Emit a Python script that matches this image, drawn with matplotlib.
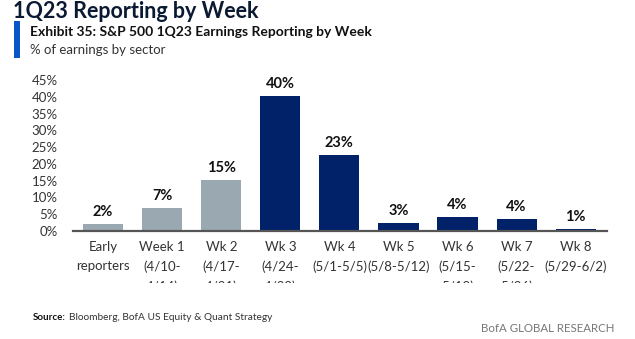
import matplotlib
matplotlib.use("Agg")
import matplotlib.pyplot as plt
from matplotlib.patches import Rectangle

categories = ["Early\nreporters", "Week 1\n(4/10-\n4/14)", "Wk 2\n(4/17-\n4/21)", "Wk 3\n(4/24-\n4/28)",
              "Wk 4\n(5/1-5/5)", "Wk 5\n(5/8-5/12)", "Wk 6\n(5/15-\n5/19)", "Wk 7\n(5/22-\n5/26)",
              "Wk 8\n(5/29-6/2)"]
values = [2.1, 6.9, 15.1, 40.2, 22.6, 2.5, 4.3, 3.5, 0.7]
value_labels = ["2%", "7%", "15%", "40%", "23%", "3%", "4%", "4%", "1%"]
is_past = [True, True, True, False, False, False, False, False, False]
yticks = [0, 5, 10, 15, 20, 25, 30, 35, 40, 45]

GREY = "#9aa9b1"
NAVY = "#012169"

W, H = 635, 339
fig = plt.figure(figsize=(W / 100, H / 100), dpi=100)

def fx(px):
    return px / W

def fy(py):
    return 1 - py / H

FONT = "Lato"
plt.rcParams["font.family"] = [FONT, "DejaVu Sans"]

ax_l, ax_r, ax_t, ax_b = 73, 607, 80, 231
ax = fig.add_axes([fx(ax_l), fy(ax_b), fx(ax_r - ax_l), (ax_b - ax_t) / H])

x = list(range(len(values)))
colors = [GREY if p else NAVY for p in is_past]
ax.bar(x, values, width=0.68, color=colors, zorder=2)
for xi, v, lab in zip(x, values, value_labels):
    ax.annotate(lab, (xi, v), xytext=(0, 3.5), textcoords="offset points",
                ha="center", va="bottom", fontsize=10.5, fontweight="bold", color="#111111")

ax.set_xlim(-0.51, 8.53)
ax.set_ylim(0, 45)
ax.set_yticks(yticks)
ax.set_yticklabels([f"{t}%" for t in yticks])
ax.set_xticks(x)
ax.set_xticklabels(categories, linespacing=1.7)
ax.tick_params(axis="y", length=0, pad=11, labelsize=9.5, labelcolor="#333333")
ax.tick_params(axis="x", length=0, pad=7, labelsize=9.5, labelcolor="#333333")
for s in ["top", "right", "left"]:
    ax.spines[s].set_visible(False)
ax.spines["bottom"].set_color("#555555")
ax.spines["bottom"].set_linewidth(1.6)

# mask the cut-off third line of the category labels
fig.add_artist(Rectangle((0, fy(302)), 1, fy(283) - fy(302), transform=fig.transFigure,
                         facecolor="white", edgecolor="none", zorder=10))

# Titles
fig.text(fx(13), fy(12), "1Q23 Reporting by Week", fontsize=15.5, fontweight="bold",
         color="#0b1a33", va="center", ha="left")
fig.add_artist(Rectangle((fx(14), fy(58)), fx(6), fy(21) - fy(58), transform=fig.transFigure,
                         facecolor="#0a55c8", edgecolor="none"))
fig.text(fx(30), fy(32), "Exhibit 35: S&P 500 1Q23 Earnings Reporting by Week", fontsize=10,
         fontweight="bold", color="#111111", va="center", ha="left")
fig.text(fx(30), fy(50), "% of earnings by sector", fontsize=9.5, color="#333333",
         va="center", ha="left")

# Footer
fig.text(fx(33), fy(317), "Source:", fontsize=7, fontweight="bold", color="#111111",
         va="center", ha="left")
fig.text(fx(69), fy(317), "Bloomberg, BofA US Equity & Quant Strategy", fontsize=7.3,
         color="#333333", va="center", ha="left")
fig.text(fx(614), fy(329), "BofA GLOBAL RESEARCH", fontsize=8.3, color="#777777",
         va="center", ha="right")

fig.savefig("out.png", dpi=100, facecolor="white")
